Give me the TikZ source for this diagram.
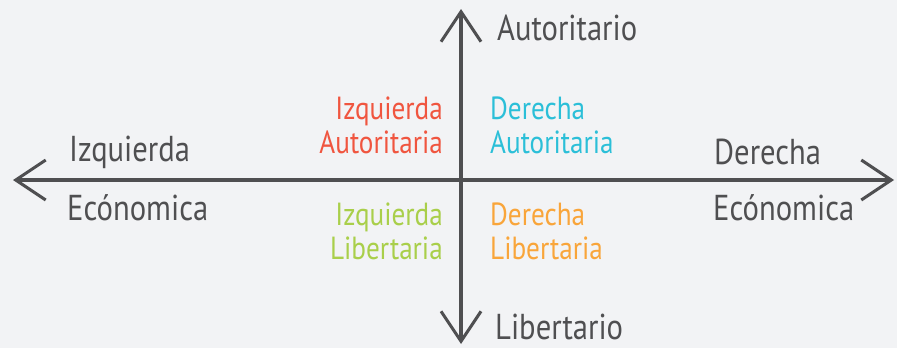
\documentclass[tikz,border=0pt]{standalone}
\usepackage{fontspec}
\setmainfont[FakeStretch=0.85]{PT Sans}
\usetikzlibrary{arrows.meta}

\definecolor{fondo}{HTML}{F2F3F5}
\definecolor{eje}{HTML}{4F4F51}
\definecolor{rojo}{HTML}{F0553F}
\definecolor{cian}{HTML}{2BBFD8}
\definecolor{verde}{HTML}{A9CF4A}
\definecolor{naranja}{HTML}{F9A53A}

\tikzset{
  ejetxt/.style={text=eje, inner sep=0pt, font=\fontsize{36}{38}\selectfont},
  cuadtxt/.style={inner sep=0pt, font=\fontsize{32}{34}\selectfont},
  punta/.style={-{Straight Barb[length=30pt,width=40pt,line width=3pt]}}
}

\begin{document}
\begin{tikzpicture}[x=1pt, y=-1pt]
    % fondo
    \fill[fondo] (0,0) rectangle (897,348);
    \useasboundingbox (0,0) rectangle (897,348);

    % ejes
    \coordinate (centro) at (461,180);
    \coordinate (izq) at (13,180);
    \coordinate (der) at (894,180);
    \coordinate (arriba) at (461,9);
    \coordinate (abajo) at (461,344);
    \draw[eje, line width=3.5pt, punta] (centro) -- (izq);
    \draw[eje, line width=3.5pt, punta] (centro) -- (der);
    \draw[eje, line width=4.5pt, punta] (centro) -- (arriba);
    \draw[eje, line width=4.5pt, punta] (centro) -- (abajo);

    % etiquetas de los ejes
    \node[ejetxt, anchor=west] (autoritario) at (497,28) {Autoritario};
    \node[ejetxt, anchor=west] (libertario) at (495,327) {Libertario};
    \node[ejetxt, anchor=west] (izquierda) at (69,152) {Izquierda};
    \node[ejetxt, anchor=west] (econizq) at (67,208) {Ecónomica};
    \node[ejetxt, anchor=west] (derecha) at (714,152) {Derecha};
    \node[ejetxt, anchor=west] (econder) at (713,208) {Ecónomica};

    % cuadrantes
    \node[cuadtxt, text=rojo, align=right, anchor=east] (izqaut) at (443,125) {Izquierda\\Autoritaria};
    \node[cuadtxt, text=cian, align=left, anchor=west] (deraut) at (490,125) {Derecha\\Autoritaria};
    \node[cuadtxt, text=verde, align=right, anchor=east] (izqlib) at (443,231) {Izquierda\\Libertaria};
    \node[cuadtxt, text=naranja, align=left, anchor=west] (derlib) at (490,231) {Derecha\\Libertaria};

\end{tikzpicture}
\end{document}
